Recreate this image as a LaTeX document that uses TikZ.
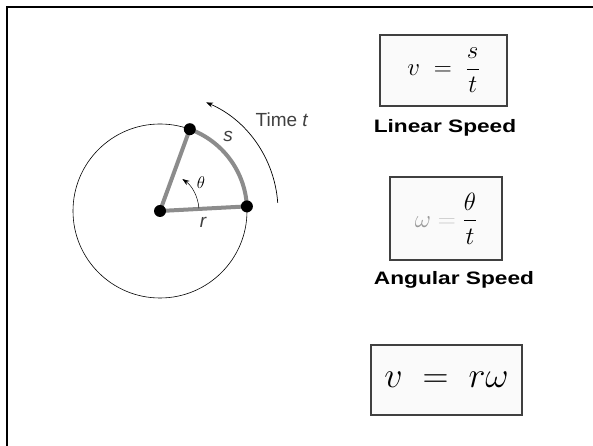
\RequirePackage{fix-cm}
\documentclass[tikz,border=0pt]{standalone}
\usepackage{amsmath}
\usepackage{fontspec}
\usepackage{tikz}
\newfontfamily\labelfont[FakeStretch=1.26]{Liberation Sans}
\newfontfamily\markfont{Liberation Sans}
\usetikzlibrary{arrows.meta, positioning, backgrounds}

\begin{document}
\begin{tikzpicture}[x=1pt, y=1pt,
    eqbox/.style={rectangle, draw=black!75, line width=2pt, fill=black!2, inner sep=0pt},
    caption/.style={font=\labelfont\bfseries\fontsize{18}{21}\selectfont},
    marklabel/.style={text=black!75, font=\markfont\fontsize{19}{22}\selectfont},
    dot/.style={circle, fill=black, inner sep=0pt, minimum size=12pt},
    spoke/.style={line width=4pt, black!45},
    arrow/.style={-{Stealth[length=7pt, width=5pt]}}
]
\useasboundingbox (0,0) rectangle (593,446);
\draw [line width=2.5pt] (593,439) -- (7,439) -- (7,0);
% circle with radius r and arc s
\node [dot] (o) at (160,235) {};
\node [dot] (q) at (246.9,239.6) {};
\node [dot] (p) at (189.8,316.8) {};
\begin{pgfonlayer}{background}
\draw [line width=0.6pt] (o.center) circle (87pt);
\draw [spoke] (q.center) arc [start angle=3, end angle=70, radius=87pt];
\draw [spoke] (o.center) -- (q.center);
\draw [spoke] (o.center) -- (p.center);
\end{pgfonlayer}
\draw [line width=0.5pt, arrow] ([shift={(4:39pt)}]o.center) arc [start angle=4, end angle=55, radius=39pt];
\draw [line width=0.7pt, arrow] ([shift={(4:118pt)}]o.center) arc [start angle=4, end angle=67, radius=118pt];
\node (theta) at (201,263) {\fontsize{17}{20}\selectfont$\theta$};
\node [marklabel] (s) at (228,309) {\itshape s};
\node [marklabel] (r) at (203,224) {\itshape r};
\node [marklabel] (time) at (282,326) {Time \textit{t}};
% formulas
\node [eqbox, minimum width=127pt, minimum height=71pt] (lin) at (443.5,375.5)
    {\fontsize{25}{30}\selectfont$\displaystyle v \;=\; \frac{s}{t}$};
\node [caption] (linname) at (445,318) {Linear Speed};
\node [eqbox, minimum width=112pt, minimum height=83pt] (ang) at (446,227.5)
    {\fontsize{25}{30}\selectfont$\displaystyle {\color{black!40}\omega} \mathrel{\color{black!20}=} \frac{\theta}{t}$};
\node [caption] (angname) at (454,166) {Angular Speed};
\node [eqbox, minimum width=151pt, minimum height=70pt] (rel) at (446.5,66)
    {\fontsize{36}{42}\selectfont$v \;=\; r\omega$};
\end{tikzpicture}
\end{document}
